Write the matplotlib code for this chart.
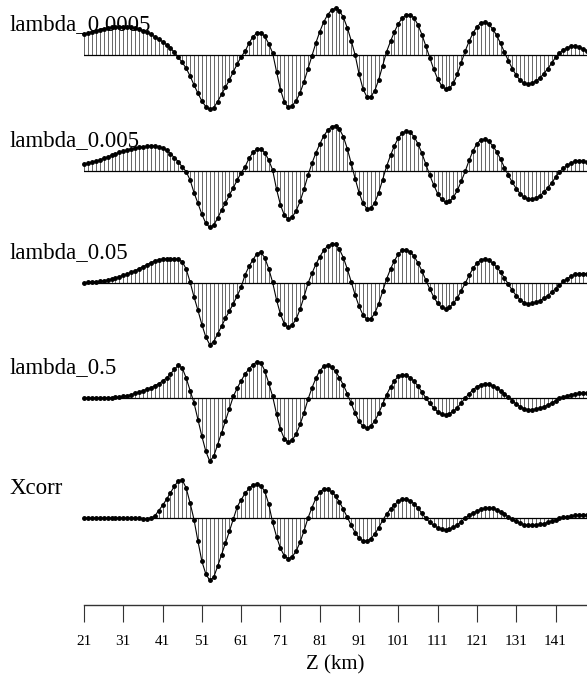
import matplotlib
matplotlib.use("Agg")
import matplotlib.pyplot as plt
import numpy as np

# ---------------- data ----------------
depth_km = list(range(21, 150))
tick_values = [21, 31, 41, 51, 61, 71, 81, 91, 101, 111, 121, 131, 141]
trace_labels = ["lambda_0.0005", "lambda_0.005", "lambda_0.05", "lambda_0.5", "Xcorr"]

lambda_0_0005 = (
    [62, 66, 70, 73, 76, 79, 81, 83, 84, 85, 85, 84, 83, 80, 77, 73, 68, 62, 55, 48, 40, 31, 21, 8]
    + [-7, -22, -40, -63, -90, -115, -138, -155, -163, -158, -140, -118, -97, -75, -50, -27, -5]
    + [11, 36, 55, 66, 67, 56, 34, 6]
    + [-50, -104, -142, -157, -152, -137, -113, -80, -41, -2]
    + [36, 70, 99, 121, 135, 140, 133, 113, 82, 43, 0]
    + [-57, -102, -126, -125, -107, -74, -32]
    + [10, 41, 70, 94, 111, 120, 121, 111, 90, 61, 26]
    + [-10, -43, -72, -92, -102, -100, -85, -58, -23]
    + [12, 41, 66, 85, 96, 98, 92, 78, 59, 35, 8]
    + [-17, -41, -61, -76, -85, -87, -84, -78, -69, -56, -41, -25, -7]
    + [6, 15, 22, 26, 27, 24, 18, 13]
)

lambda_0_005 = (
    [20, 23, 26, 30, 33, 38, 42, 47, 51, 56, 59, 63, 66, 69, 71, 73, 74, 75, 75, 73, 69, 62, 52, 40, 28, 12]
    + [-2, -27, -65, -97, -130, -157, -169, -162, -142, -117, -97, -72, -50, -27, -5]
    + [13, 38, 56, 66, 67, 55, 33, 3]
    + [-55, -102, -133, -144, -138, -119, -91, -54, -13]
    + [23, 54, 81, 105, 122, 133, 136, 126, 103, 67, 23]
    + [-23, -65, -97, -113, -112, -95, -65, -26]
    + [14, 47, 76, 99, 114, 120, 116, 103, 81, 53, 20]
    + [-13, -42, -68, -85, -94, -91, -79, -58, -31, -1]
    + [32, 61, 82, 94, 95, 89, 76, 58, 36, 10]
    + [-13, -34, -53, -68, -79, -84, -85, -81, -74, -64, -51, -36, -19, -2]
    + [8, 17, 24, 29, 31, 30, 28]
)

lambda_0_05 = (
    [1, 2, 3, 4, 5, 7, 9, 12, 15, 19, 23, 27, 32, 37, 43, 49, 55, 61, 66, 70, 72, 73, 73, 73, 71, 64, 42, 3]
    + [-42, -82, -125, -162, -185, -176, -153, -130, -106, -84, -62, -38, -12]
    + [25, 50, 70, 88, 92, 76, 43, 2]
    + [-51, -94, -123, -133, -126, -108, -78, -41, -1]
    + [29, 56, 79, 98, 111, 117, 116, 101, 76, 42, 4]
    + [-36, -70, -96, -109, -107, -91, -62, -25]
    + [12, 42, 67, 87, 98, 100, 93, 80, 60, 36, 8]
    + [-18, -42, -61, -73, -77, -73, -61, -45, -23, -1]
    + [23, 44, 60, 70, 72, 68, 60, 48, 33, 15]
    + [-4, -22, -38, -50, -59, -62, -61, -58, -53, -46, -38, -28, -17, -6]
    + [5, 13, 21, 26, 28, 28, 28]
)

lambda_0_5 = (
    [0, 0, 0, 0, 0, 1, 1, 1, 2, 3, 5, 7, 10, 14, 18, 22, 26, 31, 37, 43, 51, 60, 72, 86, 98, 90, 60, 22]
    + [-15, -65, -115, -160, -190, -175, -140, -105, -68, -32]
    + [5, 30, 52, 72, 88, 100, 109, 106, 82, 45, 5]
    + [-48, -94, -123, -132, -126, -108, -79, -44, -4]
    + [30, 59, 82, 95, 98, 92, 80, 61, 39, 13]
    + [-16, -46, -70, -85, -90, -84, -69, -46, -18]
    + [10, 33, 52, 65, 70, 68, 61, 50, 36, 18, 0]
    + [-16, -30, -41, -48, -50, -47, -40, -29, -15, 0]
    + [13, 25, 34, 40, 42, 41, 37, 30, 22, 13, 2]
    + [-8, -18, -26, -32, -35, -35, -33, -30, -26, -21, -15, -8, -1]
    + [3, 7, 10, 12, 14, 15, 15]
)

xcorr = (
    [0, 0, 0, 0, 0, 0, 0, 0, 0, 0, 0, 0, 0, 0, -1, -2, -2, 0, 6, 22, 38, 56, 76, 95, 112, 114, 90, 45]
    + [-5, -70, -130, -168, -187, -178, -145, -110, -75, -40]
    + [-3, 34, 55, 74, 89, 99, 102, 97, 80, 42]
    + [-13, -56, -91, -114, -122, -116, -99, -72, -38, 0]
    + [31, 59, 78, 87, 86, 79, 66, 48, 26, 2]
    + [-22, -44, -60, -69, -69, -62, -48, -29, -7]
    + [12, 27, 40, 50, 56, 57, 52, 43, 30, 14, -1]
    + [-13, -22, -29, -34, -35, -33, -28, -20, -11, 0]
    + [8, 15, 21, 26, 29, 30, 29, 25, 19, 12, 3]
    + [-4, -10, -16, -20, -22, -22, -21, -19, -17, -13, -9, -5, -1]
    + [2, 4, 6, 8, 9, 10, 10]
)

traces = [lambda_0_0005, lambda_0_005, lambda_0_05, lambda_0_5, xcorr]

# ---------------- layout / style ----------------
W, H = 587, 681
AXIS_Y = 605                      # pixel row of the distance axis
baselines = [55, 171, 283, 398, 518]   # pixel rows of trace zero lines
amp_scale = 1.0 / 3.0

font = dict(family="Liberation Serif")

fig = plt.figure(figsize=(W / 100, H / 100), dpi=100)
ax = fig.add_axes([84 / W, (H - AXIS_Y) / H, (W - 84) / W, AXIS_Y / H])
ax.set_xlim(21, 149)
ax.set_ylim(AXIS_Y, 0)

x = np.array(depth_km)
for base, vals, label in zip(baselines, traces, trace_labels):
    y = base - np.array(vals) * amp_scale
    ax.axhline(base, color="black", lw=0.9, zorder=2)
    ax.vlines(x, base, y, color="0.4", lw=0.7, zorder=1)
    ax.plot(x, y, color="black", lw=0.8, zorder=3)
    ax.plot(x, y, "o", color="black", ms=2.5, mec="black", zorder=4, clip_on=False)
    fig.text(10 / W, 1 - (base - 30) / H, label, fontsize=16.5, va="center", ha="left", **font)

for s in ["top", "left", "right"]:
    ax.spines[s].set_visible(False)
ax.spines["bottom"].set_linewidth(1.0)
ax.spines["bottom"].set_color("#333333")
ax.set_yticks([])
ax.set_xticks(tick_values)
ax.set_xticklabels([str(t) for t in tick_values], fontsize=11, **font)
ax.tick_params(axis="x", direction="out", length=12.5, width=0.8, color="#333333", pad=9)
ax.set_xlabel("Z (km)", fontsize=15, labelpad=5, **font)

fig.savefig("out.png", dpi=100)
